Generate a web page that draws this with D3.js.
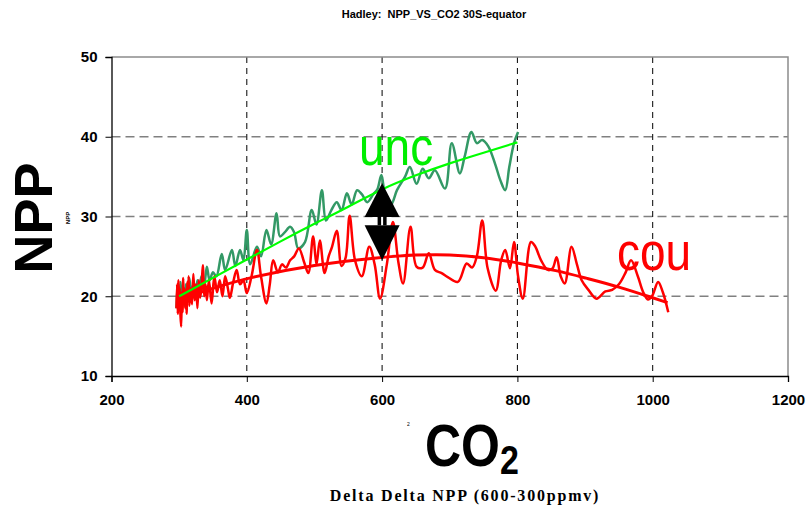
<!DOCTYPE html>
<html>
<head>
<meta charset="utf-8">
<script src="https://cdn.jsdelivr.net/npm/d3@7"></script>
<style>
  body { margin: 0; background: #fff; }
  svg { display: block; }
  .tick text { font-family: "Liberation Sans", Arial, sans-serif; font-weight: bold; font-size: 15px; fill: #000; }
</style>
</head>
<body>
<div id="chart"></div>
<script>
// axis ticks
var xTicks = [200, 400, 600, 800, 1000, 1200];
var yTicks = [10, 20, 30, 40, 50];

// cou: CO2 (ppmv) vs NPP, coupled run
var couCO2 = [296, 297, 298, 299, 300, 301, 302, 303, 304, 305, 306, 307, 308, 309, 310, 311, 312, 313, 314, 315,
  317, 319, 321, 323, 325, 327, 329, 331, 333, 335, 337, 339, 341, 344, 348, 352, 356, 360, 364, 368,
  372, 375, 380, 385, 390, 395, 400, 407, 415, 421, 429, 434, 439, 446, 452, 458, 464, 470, 477, 485,
  491, 498, 503, 508, 515, 521, 526, 533, 540, 546, 552, 560, 570, 581, 589, 597, 607, 616, 624, 631,
  642, 651, 660, 669, 678, 688, 697, 712, 725, 733, 740, 748, 756, 768, 776, 782, 789, 795, 801, 808,
  820, 826, 835, 845, 852, 858, 864, 870, 880, 888, 895, 905, 917, 930, 940, 950, 960, 968, 978, 986,
  993, 999, 1008, 1015, 1023];
var couNPP = [18.5, 21.5, 17.8, 22.0, 19.0, 21.0, 17.5, 16.2, 20.5, 18.0, 22.3, 19.2, 21.0, 18.5, 20.8, 17.8, 21.8, 19.5, 22.5, 18.8,
  21.0, 19.0, 22.8, 19.5, 21.5, 18.5, 22.0, 19.8, 21.0, 23.9, 20.0, 21.5, 19.5, 22.0, 19.1, 22.5, 20.5, 22.0, 20.0, 22.5,
  21.0, 19.8, 21.8, 23.3, 21.5, 22.0, 20.4, 22.5, 25.8, 22.5, 19.1, 21.5, 24.5, 23.0, 24.0, 23.6, 24.5, 25.0, 26.0, 24.2,
  22.9, 27.5, 24.0, 27.0, 22.9, 25.0, 26.2, 28.2, 23.8, 24.8, 30.1, 24.5, 22.5, 26.2, 24.0, 19.7, 24.0, 29.3, 24.3, 21.6,
  28.7, 23.7, 23.6, 25.4, 23.3, 22.9, 22.4, 21.8, 24.1, 23.6, 25.0, 29.5, 23.5, 20.7, 24.5, 25.8, 23.5, 26.8, 22.5, 19.7,
  26.8, 26.3, 24.5, 23.3, 23.5, 24.9, 22.5, 21.6, 26.2, 24.0, 22.0, 20.8, 19.7, 20.6, 20.8, 21.5, 23.0, 24.5, 22.5, 20.5,
  19.6, 20.0, 21.8, 20.5, 18.0];

// unc: CO2 (ppmv) vs NPP, uncoupled run
var uncCO2 = [296, 298, 300, 302, 304, 306, 308, 310, 312, 315, 318, 321, 324, 327, 330, 333, 337, 341, 345, 350,
  355, 363, 368, 378, 383, 390, 395, 400, 405, 415, 421, 429, 436, 444, 449, 456, 464, 470, 476, 486,
  496, 503, 511, 517, 525, 533, 540, 548, 555, 563, 570, 578, 587, 593, 599, 606, 613, 622, 634, 641,
  651, 660, 669, 678, 693, 703, 715, 722, 732, 740, 748, 757, 767, 775, 782, 788, 795, 801];
var uncNPP = [18.5, 21.5, 19.0, 21.8, 19.5, 20.8, 18.8, 21.5, 20.0, 22.3, 20.2, 21.5, 19.8, 22.0, 21.0, 22.5, 21.5, 23.7, 22.0, 23.0,
  22.5, 25.3, 23.3, 25.8, 23.8, 25.8, 24.5, 28.3, 24.0, 26.2, 25.0, 28.3, 26.5, 30.4, 27.5, 28.0, 28.7, 28.0, 26.0, 26.8,
  30.8, 29.0, 33.3, 29.5, 30.8, 31.8, 30.8, 32.9, 31.5, 33.3, 32.8, 31.8, 32.8, 33.4, 35.2, 32.0, 31.5, 33.3, 35.0, 36.2,
  34.1, 36.0, 34.8, 35.8, 33.5, 39.2, 35.4, 37.5, 40.6, 39.2, 39.6, 38.8, 36.6, 34.5, 33.3, 36.2, 39.2, 40.6];

// trend lines
var couFitCO2 = [298, 350, 400, 500, 600, 650, 700, 750, 800, 860, 900, 950, 1000, 1022];
var couFitNPP = [19.6, 21.0, 22.3, 24.0, 24.9, 25.2, 25.25, 24.9, 24.2, 23.2, 22.3, 21.2, 19.8, 19.2];
var uncFitCO2 = [300, 350, 400, 450, 500, 550, 600, 650, 700, 750, 800];
var uncFitNPP = [20.0, 22.3, 24.6, 26.9, 29.1, 31.2, 33.5, 35.2, 36.7, 38.0, 39.3];

// double arrow at 600 ppmv: tips and bases (NPP)
var arrowCO2 = 600;
var arrowUp = [34.2, 29.95];
var arrowDown = [28.9, 24.5];

var width = 809, height = 508;
var margin = { top: 57, right: 21, bottom: 132, left: 111.5 };

var svg = d3.select("#chart").append("svg")
  .attr("width", width)
  .attr("height", height);

var x = d3.scaleLinear().domain([200, 1200]).range([margin.left, width - margin.right]);
var y = d3.scaleLinear().domain([10, 50]).range([height - margin.bottom, margin.top]);

// title
svg.append("text")
  .attr("x", 434).attr("y", 18)
  .attr("text-anchor", "middle")
  .style("font-family", "Liberation Sans, Arial, sans-serif")
  .style("font-weight", "bold")
  .style("font-size", "11px")
  .style("white-space", "pre")
  .text("Hadley:  NPP_VS_CO2 30S-equator");

// horizontal grid
svg.append("g").selectAll("line")
  .data(yTicks.filter(function(d) { return d > 10 && d < 50; }))
  .enter().append("line")
  .attr("x1", x(200)).attr("x2", x(1200))
  .attr("y1", function(d) { return y(d); })
  .attr("y2", function(d) { return y(d); })
  .style("stroke", "#808080")
  .style("stroke-width", 1.5)
  .style("stroke-dasharray", "9,5");

// vertical grid
svg.append("g").selectAll("line")
  .data(xTicks.filter(function(d) { return d > 200 && d < 1200; }))
  .enter().append("line")
  .attr("y1", y(50)).attr("y2", y(10))
  .attr("x1", function(d) { return x(d); })
  .attr("x2", function(d) { return x(d); })
  .style("stroke", "#000")
  .style("stroke-width", 1)
  .style("stroke-dasharray", "6,5");

// plot frame top / right
svg.append("path")
  .attr("d", "M" + x(200) + "," + y(50) + "H" + x(1200) + "V" + y(10))
  .style("fill", "none")
  .style("stroke", "#8c8c8c")
  .style("stroke-width", 1.5);

// data lines
var line = d3.line()
  .x(function(d) { return x(d[0]); })
  .y(function(d) { return y(d[1]); })
  .curve(d3.curveCatmullRom.alpha(0.5));

function pairs(xs, ys) {
  return xs.map(function(v, i) { return [v, ys[i]]; });
}

svg.append("path")
  .attr("d", line(pairs(uncCO2, uncNPP)))
  .style("fill", "none")
  .style("stroke", "#339966")
  .style("stroke-width", 2.5)
  .style("stroke-linejoin", "round");

svg.append("path")
  .attr("d", line(pairs(couCO2, couNPP)))
  .style("fill", "none")
  .style("stroke", "#ff0000")
  .style("stroke-width", 2.5)
  .style("stroke-linejoin", "round");

var fitLine = d3.line()
  .x(function(d) { return x(d[0]); })
  .y(function(d) { return y(d[1]); })
  .curve(d3.curveBasis);

svg.append("path")
  .attr("d", fitLine(pairs(couFitCO2, couFitNPP)))
  .style("fill", "none")
  .style("stroke", "#ff0000")
  .style("stroke-width", 3);

svg.append("path")
  .attr("d", fitLine(pairs(uncFitCO2, uncFitNPP)))
  .style("fill", "none")
  .style("stroke", "#00ff00")
  .style("stroke-width", 2.2);

// axes
var yAxis = d3.axisLeft(y).tickValues(yTicks).tickSize(6).tickPadding(8);
var gy = svg.append("g")
  .attr("transform", "translate(" + x(200) + ",0)")
  .call(yAxis);
gy.select(".domain").style("stroke", "#000").style("stroke-width", 1.3);

var xAxis = d3.axisBottom(x).tickValues(xTicks).tickFormat(d3.format("d")).tickSize(6).tickPadding(12);
var gx = svg.append("g")
  .attr("transform", "translate(0," + y(10) + ")")
  .call(xAxis);
gx.select(".domain").style("stroke", "#000").style("stroke-width", 1.3);

// double-headed arrow
var ax = x(arrowCO2), hw = 17.5;
var arrow = svg.append("g").style("fill", "#000");
arrow.append("path")
  .attr("d", "M" + ax + "," + y(arrowUp[0]) + "L" + (ax + hw) + "," + y(arrowUp[1]) + "L" + (ax - hw) + "," + y(arrowUp[1]) + "Z");
arrow.append("path")
  .attr("d", "M" + ax + "," + y(arrowDown[1]) + "L" + (ax + hw) + "," + y(arrowDown[0]) + "L" + (ax - hw) + "," + y(arrowDown[0]) + "Z");
arrow.append("rect")
  .attr("x", ax - 4.5).attr("width", 9)
  .attr("y", y(arrowUp[1])).attr("height", y(arrowDown[0]) - y(arrowUp[1]));
arrow.append("rect")
  .attr("x", ax - 1).attr("width", 2)
  .attr("y", y(arrowUp[1])).attr("height", y(arrowDown[0]) - y(arrowUp[1]))
  .style("fill", "#fff");

// series labels
svg.append("text")
  .attr("transform", "translate(359,165) scale(1,1.15)")
  .style("font-family", "Liberation Sans, Arial, sans-serif")
  .style("font-size", "46px")
  .style("fill", "#00ee00")
  .text("unc");

svg.append("text")
  .attr("transform", "translate(617,270) scale(1,1.15)")
  .style("font-family", "Liberation Sans, Arial, sans-serif")
  .style("font-size", "46px")
  .style("fill", "#ff0000")
  .text("cou");

// y axis titles
svg.append("text")
  .attr("transform", "translate(52,218) rotate(-90)")
  .attr("text-anchor", "middle")
  .style("font-family", "Liberation Sans, Arial, sans-serif")
  .style("font-weight", "bold")
  .style("font-size", "54px")
  .text("NPP");

svg.append("text")
  .attr("transform", "translate(70,218) rotate(-90)")
  .attr("text-anchor", "middle")
  .style("font-family", "Liberation Sans, Arial, sans-serif")
  .style("font-weight", "bold")
  .style("font-size", "6px")
  .text("NPP");

// x axis titles
var co2 = svg.append("text")
  .attr("transform", "translate(425,466) scale(1,1.2)")
  .style("font-family", "Liberation Sans, Arial, sans-serif")
  .style("font-weight", "bold")
  .style("font-size", "50px");
co2.append("tspan").text("CO");
co2.append("tspan").attr("dy", 7).style("font-size", "34px").text("2");

svg.append("text")
  .attr("x", 407).attr("y", 426)
  .style("font-family", "Liberation Sans, Arial, sans-serif")
  .style("font-size", "5px")
  .text("2");

svg.append("text")
  .attr("x", 465).attr("y", 501)
  .attr("text-anchor", "middle")
  .style("font-family", "Liberation Serif, Times New Roman, serif")
  .style("font-weight", "bold")
  .style("font-size", "16px")
  .style("letter-spacing", "1.8px")
  .text("Delta Delta NPP (600-300ppmv)");
</script>
</body>
</html>
